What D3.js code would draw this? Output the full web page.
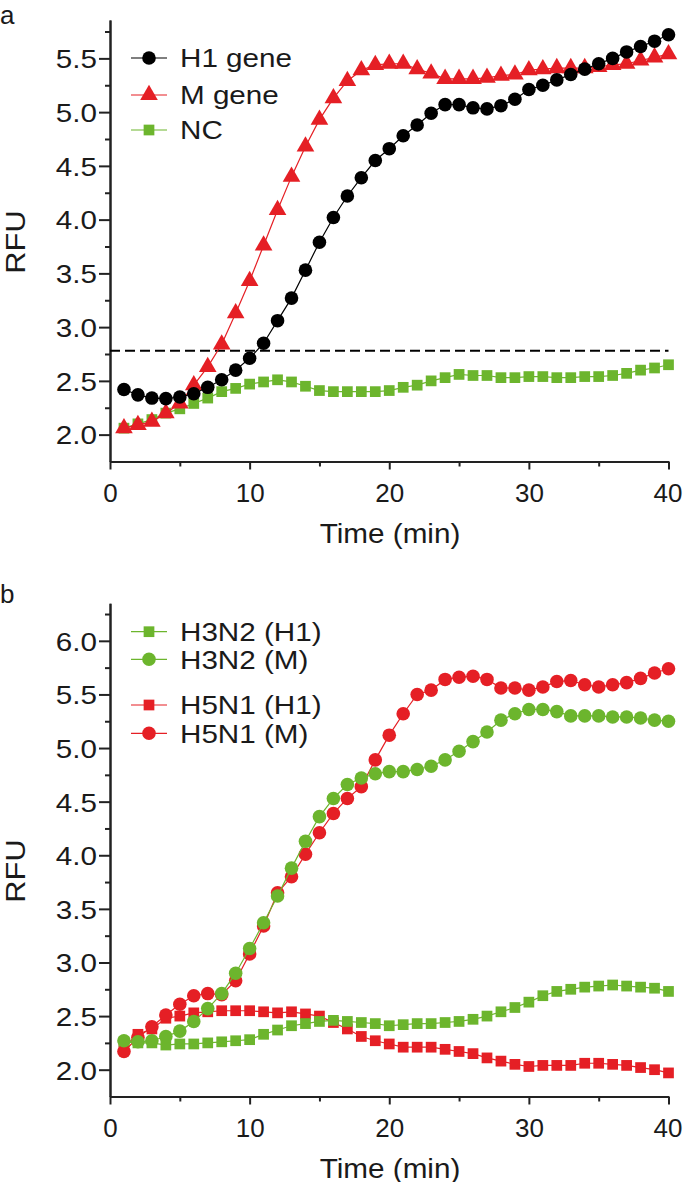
<!DOCTYPE html>
<html>
<head>
<meta charset="utf-8">
<script src="https://cdn.jsdelivr.net/npm/d3@7"></script>
<style>
  body { margin: 0; background: #fff; }
  text { font-family: "Liberation Sans", Arial, sans-serif; fill: #1a1a1a; }
</style>
</head>
<body>
<svg id="chart" width="683" height="1182"></svg>
<script>
const minutes = [1,2,3,4,5,6,7,8,9,10,11,12,13,14,15,16,17,18,19,20,
                 21,22,23,24,25,26,27,28,29,30,31,32,33,34,35,36,37,38,39,40];

// panel a
const h1Gene = [2.42,2.37,2.34,2.335,2.35,2.38,2.44,2.51,2.60,2.71,2.85,3.06,3.27,3.53,3.79,4.02,4.22,4.39,4.55,4.66,
                4.78,4.88,4.99,5.07,5.07,5.04,5.03,5.06,5.12,5.21,5.25,5.30,5.35,5.40,5.45,5.50,5.56,5.61,5.66,5.72];
const mGene  = [2.06,2.09,2.12,2.20,2.29,2.46,2.63,2.84,3.13,3.43,3.76,4.09,4.40,4.68,4.93,5.13,5.29,5.39,5.44,5.45,
                5.45,5.40,5.36,5.31,5.31,5.31,5.32,5.34,5.35,5.39,5.40,5.41,5.41,5.41,5.42,5.44,5.45,5.48,5.51,5.54];
const nc     = [2.06,2.10,2.14,2.20,2.24,2.29,2.34,2.40,2.43,2.47,2.49,2.51,2.49,2.45,2.41,2.40,2.40,2.40,2.40,2.41,
                2.44,2.46,2.50,2.53,2.56,2.55,2.55,2.53,2.53,2.54,2.54,2.53,2.53,2.54,2.54,2.55,2.57,2.60,2.62,2.65];
const threshold = 2.78;

// panel b
const h3n2H1 = [2.26,2.25,2.25,2.23,2.24,2.24,2.25,2.26,2.27,2.28,2.33,2.37,2.41,2.43,2.45,2.46,2.45,2.44,2.43,2.41,
                2.42,2.43,2.43,2.44,2.45,2.47,2.50,2.54,2.58,2.63,2.69,2.73,2.75,2.77,2.78,2.79,2.78,2.77,2.76,2.73];
const h3n2M  = [2.27,2.26,2.27,2.31,2.36,2.45,2.57,2.71,2.90,3.13,3.37,3.62,3.88,4.13,4.36,4.53,4.66,4.72,4.76,4.78,
                4.78,4.80,4.83,4.89,4.97,5.06,5.15,5.26,5.32,5.36,5.36,5.34,5.30,5.30,5.30,5.29,5.29,5.28,5.26,5.25];
const h5n1H1 = [2.21,2.33,2.38,2.48,2.50,2.53,2.54,2.55,2.55,2.55,2.54,2.53,2.54,2.52,2.50,2.44,2.38,2.31,2.27,2.24,
                2.21,2.21,2.21,2.19,2.17,2.15,2.11,2.08,2.05,2.03,2.04,2.04,2.04,2.06,2.06,2.05,2.04,2.02,2.00,1.97];
const h5n1M  = [2.17,2.30,2.40,2.51,2.61,2.69,2.71,2.70,2.83,3.08,3.34,3.65,3.80,4.01,4.21,4.39,4.53,4.64,4.89,5.12,
                5.32,5.50,5.54,5.64,5.66,5.67,5.64,5.56,5.56,5.54,5.57,5.62,5.63,5.59,5.57,5.59,5.61,5.65,5.70,5.74];

const xTicks = [0, 10, 20, 30, 40];
const xMinor = [5, 15, 25, 35];
const yTicksA = [2.0, 2.5, 3.0, 3.5, 4.0, 4.5, 5.0, 5.5];
const yMinorA = [2.25, 2.75, 3.25, 3.75, 4.25, 4.75, 5.25, 5.75];
const yTicksB = [2.0, 2.5, 3.0, 3.5, 4.0, 4.5, 5.0, 5.5, 6.0];
const yMinorB = [2.25, 2.75, 3.25, 3.75, 4.25, 4.75, 5.25, 5.75, 6.25];

const RED = '#e51f25', GREEN = '#6cb52d', BLACK = '#000';
const WIDE = 'scale(1.14,1)';   // o texto do original e mais largo que Arial
const svg = d3.select('#chart');

/* um painel: eixos, series, legenda */
function drawPanel(p) {
    const g = svg.append('g');
    const x = d3.scaleLinear().domain([0, 40]).range([110, 668.5]);
    const y = d3.scaleLinear().domain(p.yDomain).range(p.yRange);
    const bottom = p.yRange[0];

    // axes
    const ax = g.append('g').attr('transform', `translate(0,${bottom})`);
    ax.call(d3.axisBottom(x).tickValues(xTicks).tickSize(8).tickSizeOuter(0).tickFormat(d3.format('d')));
    ax.selectAll('.tick text').attr('y', 0).attr('dy', 0).attr('transform', 'translate(0,40)')
        .style('font-size', '26px').style('font-family', '"Liberation Sans", Arial, sans-serif');
    ax.selectAll('.tick:last-of-type text').attr('transform', 'translate(-1,40)');
    g.append('g').attr('transform', `translate(0,${bottom})`)
        .call(d3.axisBottom(x).tickValues(xMinor).tickSize(5).tickSizeOuter(0).tickFormat(''));

    const ay = g.append('g').attr('transform', 'translate(110,0)');
    ay.call(d3.axisLeft(y).tickValues(p.yTicks).tickSize(11).tickSizeOuter(0).tickFormat(d3.format('.1f')));
    ay.selectAll('.tick text').attr('x', 0).attr('dy', '0.36em').attr('transform', 'translate(-13,0) ' + WIDE)
        .style('font-size', '26px').style('font-family', '"Liberation Sans", Arial, sans-serif');
    g.append('g').attr('transform', 'translate(110,0)')
        .call(d3.axisLeft(y).tickValues(p.yMinor).tickSize(5).tickSizeOuter(0).tickFormat(''));
    g.selectAll('.domain, .tick line').attr('stroke', '#222').attr('stroke-width', 2);

    // axis titles
    g.append('text').attr('transform', `translate(390,${bottom + 81}) scale(1.06,1)`)
        .attr('text-anchor', 'middle').style('font-size', '28px').text('Time (min)');
    g.append('text').attr('transform', `translate(25,${p.rfuY}) rotate(-90) scale(1.1,1)`)
        .attr('text-anchor', 'middle').style('font-size', '28px').text('RFU');
    g.append('text').attr('x', 0).attr('y', p.letterY).style('font-size', '26px').text(p.letter);

    if (p.threshold != null) {
        g.append('line').attr('x1', x(0)).attr('x2', x(40))
            .attr('y1', y(p.threshold)).attr('y2', y(p.threshold))
            .attr('stroke', '#000').attr('stroke-width', 2).attr('stroke-dasharray', '10,5');
    }

    const line = d3.line().x((d, i) => x(minutes[i])).y(d => y(d));
    p.series.forEach(s => {
        g.append('path').datum(s.values).attr('d', line)
            .attr('fill', 'none').attr('stroke', s.color).attr('stroke-width', 1.2);
        g.append('g').selectAll('path').data(s.values).join('path')
            .attr('transform', (d, i) => `translate(${x(minutes[i])},${y(d)})`)
            .attr('d', d3.symbol().type(s.shape).size(s.size))
            .attr('fill', s.color);
    });

    // legend
    p.legend.forEach((s, i) => {
        const ly = p.legendY[i];
        g.append('line').attr('x1', 131).attr('x2', 167).attr('y1', ly).attr('y2', ly)
            .attr('stroke', s.color).attr('stroke-width', 1.2);
        g.append('path').attr('transform', `translate(149,${ly})`)
            .attr('d', d3.symbol().type(s.shape).size(s.size)).attr('fill', s.color);
        g.append('text').attr('transform', `translate(180,${ly}) ` + WIDE).attr('dy', '0.36em')
            .style('font-size', '26px').text(s.name);
    });
}

const sH1 = {name: 'H1 gene', values: h1Gene, color: BLACK, shape: d3.symbolCircle, size: 145};
const sM  = {name: 'M gene', values: mGene, color: RED, shape: d3.symbolTriangle, size: 135};
const sNC = {name: 'NC', values: nc, color: GREEN, shape: d3.symbolSquare, size: 115};

drawPanel({
    letter: 'a', letterY: 24, rfuY: 242,
    yDomain: [1.75, 5.857], yRange: [461.5, 20],
    yTicks: yTicksA, yMinor: yMinorA, threshold: threshold,
    series: [sNC, sM, sH1],
    legend: [sH1, sM, sNC], legendY: [58, 95, 130]
});

const b1 = {name: 'H3N2 (H1)', values: h3n2H1, color: GREEN, shape: d3.symbolSquare, size: 115};
const b2 = {name: 'H3N2 (M)', values: h3n2M, color: GREEN, shape: d3.symbolCircle, size: 145};
const b3 = {name: 'H5N1 (H1)', values: h5n1H1, color: RED, shape: d3.symbolSquare, size: 115};
const b4 = {name: 'H5N1 (M)', values: h5n1M, color: RED, shape: d3.symbolCircle, size: 145};

drawPanel({
    letter: 'b', letterY: 603, rfuY: 871,
    yDomain: [1.75, 6.35], yRange: [1096.5, 603.3],
    yTicks: yTicksB, yMinor: yMinorB, threshold: null,
    series: [b3, b1, b4, b2],
    legend: [b1, b2, b3, b4], legendY: [631.7, 659.3, 705, 733.3]
});
</script>
</body>
</html>
